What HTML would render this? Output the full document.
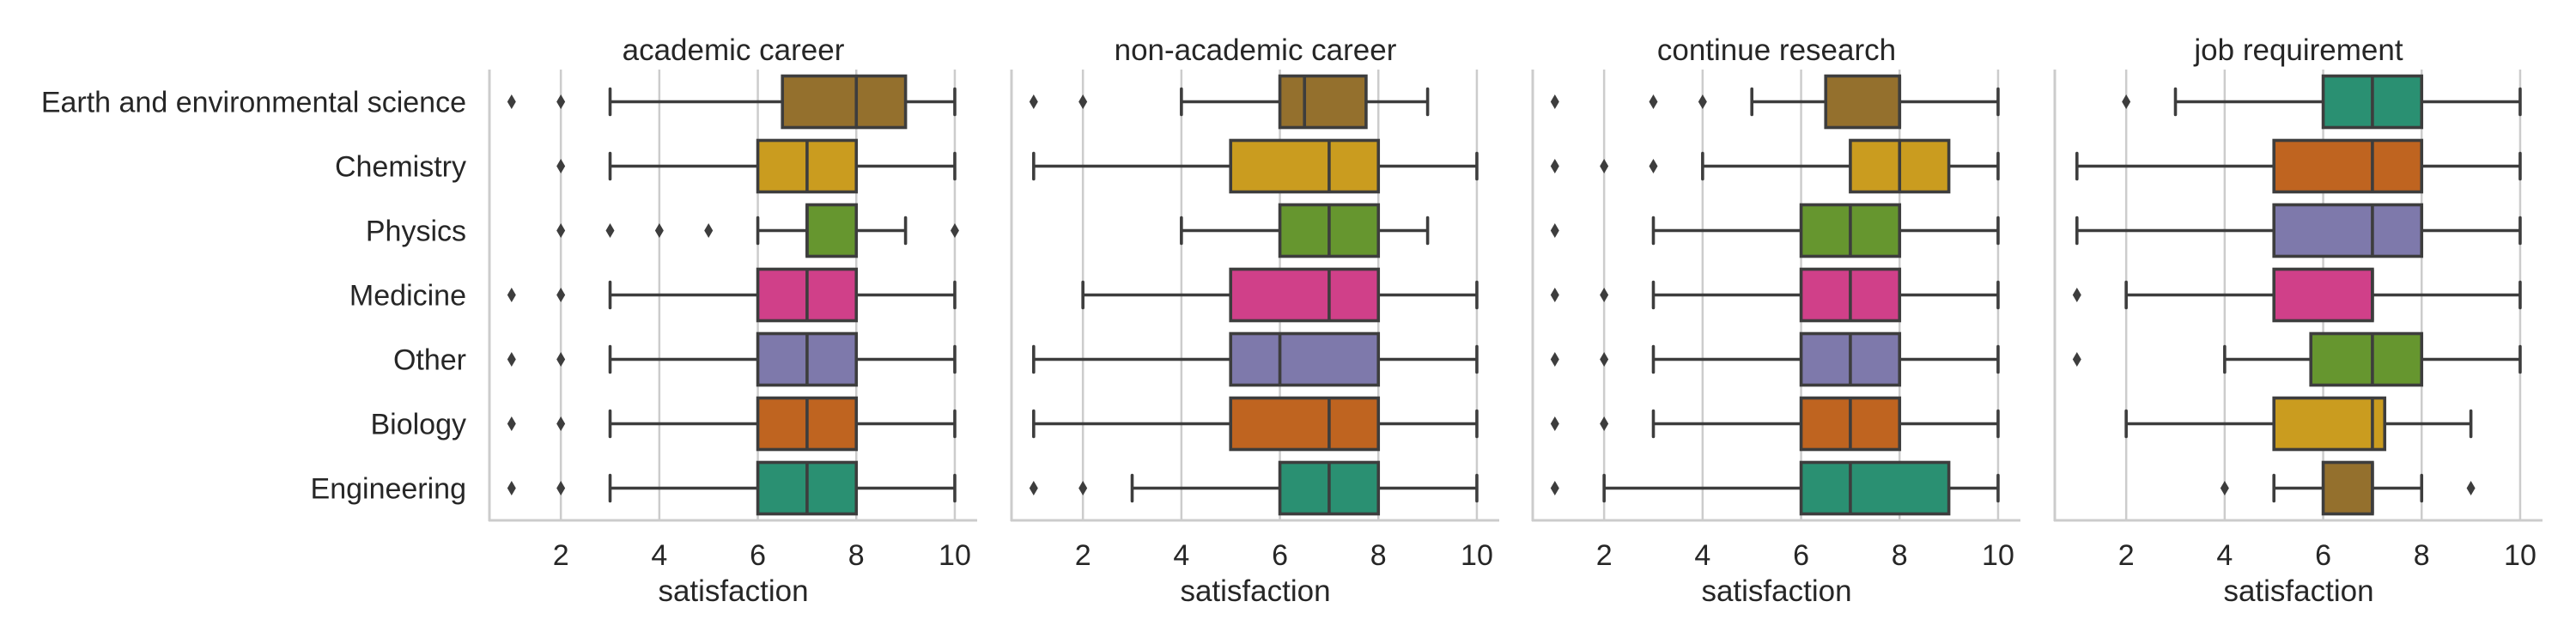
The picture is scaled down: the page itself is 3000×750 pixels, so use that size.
<!DOCTYPE html>
<html><head><meta charset="utf-8"><style>
html,body{margin:0;padding:0;background:#fff;}
svg{display:block;font-family:"Liberation Sans",Arial,sans-serif;}
</style></head><body>
<svg id="chart" width="3000" height="750" viewBox="0 0 3000 750" xmlns="http://www.w3.org/2000/svg"></svg>
<script>
const categories = ["Earth and environmental science","Chemistry","Physics","Medicine","Other","Biology","Engineering"];
const panelTitles = ["academic career","non-academic career","continue research","job requirement"];
const xTicks = [2,4,6,8,10];
// each stat: [whiskerLow, q1, median, q3, whiskerHigh]
const statsAcademic = [[3,6.5,8,9,10],[3,6,7,8,10],[6,7,7,8,9],[3,6,7,8,10],[3,6,7,8,10],[3,6,7,8,10],[3,6,7,8,10]];
const outliersAcademic = [[1,2],[2],[2,3,4,5,10],[1,2],[1,2],[1,2],[1,2]];
const statsNonAcademic = [[4,6,6.5,7.75,9],[1,5,7,8,10],[4,6,7,8,9],[2,5,7,8,10],[1,5,6,8,10],[1,5,7,8,10],[3,6,7,8,10]];
const outliersNonAcademic = [[1,2],[],[],[],[],[],[1,2]];
const statsResearch = [[5,6.5,8,8,10],[4,7,8,9,10],[3,6,7,8,10],[3,6,7,8,10],[3,6,7,8,10],[3,6,7,8,10],[2,6,7,9,10]];
const outliersResearch = [[1,3,4],[1,2,3],[1],[1,2],[1,2],[1,2],[1]];
const statsJob = [[3,6,7,8,10],[1,5,7,8,10],[1,5,7,8,10],[2,5,7,7,10],[4,5.75,7,8,10],[2,5,7,7.25,9],[5,6,7,7,8]];
const outliersJob = [[2],[],[],[1],[1],[],[4,9]];
const palette = ["#94702d","#ca9c1f","#66962f","#d04089","#7e79ab","#bf6420","#2a9072"];
const paletteJob = ["#2a9072","#bf6420","#7e79ab","#d04089","#66962f","#ca9c1f","#94702d"];

const allStats = [statsAcademic,statsNonAcademic,statsResearch,statsJob];
const allOut = [outliersAcademic,outliersNonAcademic,outliersResearch,outliersJob];
const allPal = [palette,palette,palette,paletteJob];

const NS="http://www.w3.org/2000/svg";
const svg=document.getElementById('chart');
function mk(tag,attrs,parent){const e=document.createElementNS(NS,tag);for(const k in attrs)e.setAttribute(k,attrs[k]);(parent||svg).appendChild(e);return e;}

const plotTop=81, plotBottom=606, rowH=75, pxPerUnit=57.35, xMin=0.55;
const panelLefts=[570,1178,1785,2393];
const yPos=i=>plotTop+rowH*(i+0.5);

categories.forEach((c,i)=>{
  const t=mk('text',{x:543,y:yPos(i)+12,'text-anchor':'end','font-size':34,fill:'#262626'});
  t.textContent=c;
  
  
});

panelTitles.forEach((title,p)=>{
  const L=panelLefts[p];
  const xs=v=>L+(v-xMin)*pxPerUnit;
  const g=mk('g',{});
  
  
  xTicks.forEach(v=>{
    const gl=mk('line',{x1:xs(v),x2:xs(v),y1:plotTop,y2:plotBottom,stroke:'#cccccc','stroke-width':2.5},g);
    
    
    const tl=mk('text',{x:xs(v),y:658,'text-anchor':'middle','font-size':34,fill:'#262626'},g);
    tl.textContent=v;
    
    
  });
  const sp1=mk('line',{x1:L,x2:L,y1:plotTop,y2:plotBottom+1,stroke:'#cccccc','stroke-width':3},g);
  
  
  const sp2=mk('line',{x1:L-1,x2:L+568,y1:plotBottom,y2:plotBottom,stroke:'#cccccc','stroke-width':3},g);
  
  
  const tt=mk('text',{x:L+284,y:70,'text-anchor':'middle','font-size':35,fill:'#262626'},g);
  tt.textContent=title;
  
  
  const xl=mk('text',{x:L+284,y:700,'text-anchor':'middle','font-size':35,fill:'#262626'},g);
  xl.textContent='satisfaction';
  
  

  const st=allStats[p], out=allOut[p], pal=allPal[p];
  st.forEach((s,i)=>{
    const y=yPos(i), bh=60, ch=30;
    const bg=mk('g',{},g);
    
    
    const lc='#3d3d3d', lw=3.6;
    mk('line',{x1:xs(s[0]),x2:xs(s[1]),y1:y,y2:y,stroke:lc,'stroke-width':lw},bg);
    mk('line',{x1:xs(s[3]),x2:xs(s[4]),y1:y,y2:y,stroke:lc,'stroke-width':lw},bg);
    mk('line',{x1:xs(s[0]),x2:xs(s[0]),y1:y-ch/2,y2:y+ch/2,stroke:lc,'stroke-width':lw,'stroke-linecap':'round'},bg);
    mk('line',{x1:xs(s[4]),x2:xs(s[4]),y1:y-ch/2,y2:y+ch/2,stroke:lc,'stroke-width':lw,'stroke-linecap':'round'},bg);
    mk('rect',{x:xs(s[1]),y:y-bh/2,width:xs(s[3])-xs(s[1]),height:bh,fill:pal[i],stroke:lc,'stroke-width':lw},bg);
    mk('line',{x1:xs(s[2]),x2:xs(s[2]),y1:y-bh/2,y2:y+bh/2,stroke:lc,'stroke-width':lw},bg);
    out[i].forEach(v=>{
      const x=xs(v);
      const d=mk('path',{d:`M${x},${y-8.5} L${x+5},${y} L${x},${y+8.5} L${x-5},${y} Z`,fill:lc},bg);
      
      
    });
  });
});
</script>
</body></html>
